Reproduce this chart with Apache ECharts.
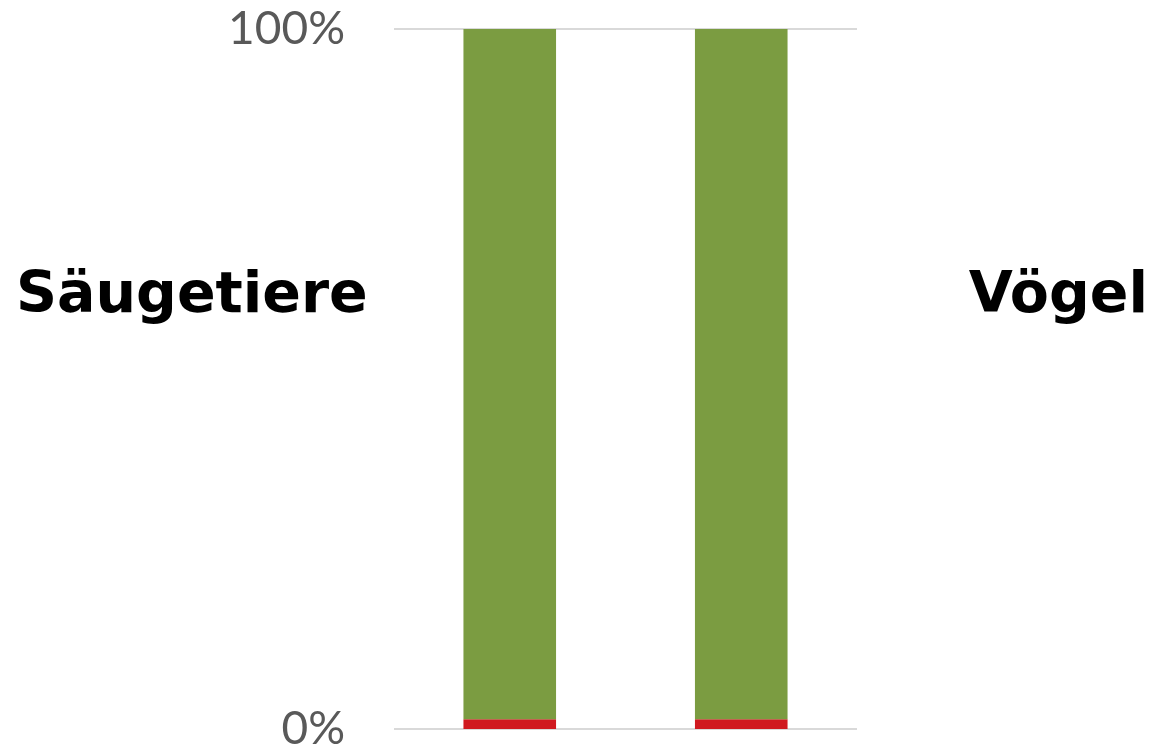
<!DOCTYPE html>
<html><head><meta charset="utf-8">
<script src="https://cdn.jsdelivr.net/npm/echarts@6/dist/echarts.min.js"></script>
<style>html,body{margin:0;padding:0;background:#fff}#c{width:1151px;height:752px}</style>
</head><body><div id="c"></div>
<script>
const categories = ['Säugetiere', 'Vögel'];
const extinct = [1.4, 1.4];
const notExtinct = [98.6, 98.6];
const yTicks = [0, 100];

const chart = echarts.init(document.getElementById('c'));
chart.setOption({
  animation: false,
  grid: { left: 394, right: 294, top: 29, bottom: 20, containLabel: false },
  xAxis: { type: 'category', data: categories, axisLine: { show: false }, axisTick: { show: false }, axisLabel: { show: false } },
  yAxis: {
    type: 'value', min: yTicks[0], max: yTicks[1], interval: 100,
    axisLine: { show: false }, axisTick: { show: false },
    splitLine: { lineStyle: { color: '#d9d9d9', width: 2 } },
    axisLabel: { formatter: '{value}%', color: '#595959', fontFamily: 'Lato', fontSize: 46, margin: 49 }
  },
  series: [
    { name: 'ausgestorben', type: 'bar', stack: 's', data: extinct, barWidth: '40%', itemStyle: { color: '#d0191f' } },
    { name: 'nicht ausgestorben', type: 'bar', stack: 's', data: notExtinct, barWidth: '40%', itemStyle: { color: '#7b9c41' } }
  ],
  graphic: [
    { type: 'text', x: 16, y: 297, style: { text: categories[0], font: 'bold 57px "DejaVu Sans"', fill: '#000', align: 'left', verticalAlign: 'middle' } },
    { type: 'text', x: 1148, y: 297, style: { text: categories[1], font: 'bold 57px "DejaVu Sans"', fill: '#000', align: 'right', verticalAlign: 'middle' } }
  ]
});
</script></body></html>
